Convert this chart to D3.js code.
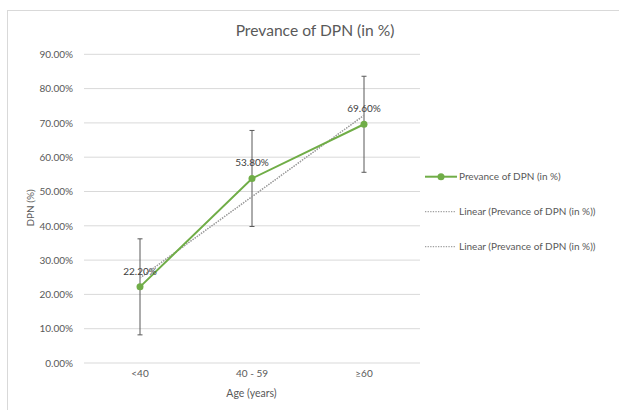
<!DOCTYPE html>
<html><head><meta charset="utf-8">
<script src="https://cdn.jsdelivr.net/npm/d3@7"></script>
<style>body{margin:0;background:#fff}svg text{font-family:Lato,"Open Sans",sans-serif}</style>
</head><body>
<svg id="c" width="619" height="410"></svg>
<script>
const categories = ["<40", "40 - 59", "\u226560"];
const values = [22.2, 53.8, 69.6];
const errors = [14, 14, 14];
const trendValues = [24.8, 72.2]; // linear trend line endpoints (first, last category)
const yTicks = [0, 10, 20, 30, 40, 50, 60, 70, 80, 90];
const legendLabels = ["Prevance of DPN (in %)", "Linear (Prevance of DPN (in %))", "Linear (Prevance of DPN (in %))"];

const FONT = "Lato,'Open Sans',sans-serif";
const svg = d3.select("#c");
const textColor = "#595959";
svg.append("rect").attr("x", 7.5).attr("y", 10.5).attr("width", 640).attr("height", 420)
  .attr("fill", "#fff").attr("stroke", "#d9d9d9");

const x = d3.scaleBand().domain(categories).range([84, 420]);
const y = d3.scaleLinear().domain([0, 90]).range([363, 54.3]);
const cx = d => x(d) + x.bandwidth() / 2;

// gridlines
svg.append("g").selectAll("line").data(yTicks).join("line")
  .attr("x1", 84).attr("x2", 420).attr("y1", d => y(d)).attr("y2", d => y(d))
  .attr("stroke", "#d9d9d9").attr("stroke-width", 1);

// y axis labels
const yAxis = d3.axisLeft(y).tickValues(yTicks).tickSize(0).tickPadding(0)
  .tickFormat(d => d3.format(".2f")(d) + "%");
const gy = svg.append("g").attr("transform", "translate(73,0)").call(yAxis);
gy.select(".domain").remove();
gy.selectAll("text").attr("fill", textColor).style("font-size", "10px").style("font-family", FONT);

// x axis labels
const xAxis = d3.axisBottom(x).tickSize(0).tickPadding(0);
const gx = svg.append("g").attr("transform", "translate(0,370)").call(xAxis);
gx.select(".domain").remove();
gx.selectAll("text").attr("fill", textColor).style("font-size", "10px").style("font-family", FONT);

// title
svg.append("text").attr("x", 315).attr("y", 36).attr("text-anchor", "middle")
  .attr("fill", textColor).style("font-size", "15.6px").text("Prevance of DPN (in %)");
// axis titles
svg.append("text").attr("x", 251.5).attr("y", 397).attr("text-anchor", "middle")
  .attr("fill", textColor).style("font-size", "10.5px").text("Age (years)");
svg.append("text").attr("transform", "translate(33.5,208) rotate(-90)").attr("text-anchor", "middle")
  .attr("fill", textColor).style("font-size", "10px").text("DPN (%)");

// error bars
const eg = svg.append("g").attr("stroke", "#595959").attr("stroke-width", 1);
categories.forEach((c, i) => {
  const px = cx(c), top = y(values[i] + errors[i]), bot = y(values[i] - errors[i]);
  eg.append("line").attr("x1", px).attr("x2", px).attr("y1", top).attr("y2", bot);
  eg.append("line").attr("x1", px - 2.5).attr("x2", px + 2.5).attr("y1", top).attr("y2", top);
  eg.append("line").attr("x1", px - 2.5).attr("x2", px + 2.5).attr("y1", bot).attr("y2", bot);
});

// trend lines (two identical)
const tx = [cx(categories[0]), cx(categories[categories.length - 1])];
for (let k = 0; k < 2; k++) {
  svg.append("line").attr("x1", tx[0]).attr("x2", tx[1])
    .attr("y1", y(trendValues[0])).attr("y2", y(trendValues[1]))
    .attr("stroke", "#a0a0a0").attr("stroke-width", 1.3).attr("stroke-dasharray", "1.3,1.3");
}

// main line
const line = d3.line().x((d, i) => cx(categories[i])).y(d => y(d));
svg.append("path").datum(values).attr("d", line).attr("fill", "none")
  .attr("stroke", "#70ad47").attr("stroke-width", 2);
svg.append("g").selectAll("circle").data(values).join("circle")
  .attr("cx", (d, i) => cx(categories[i])).attr("cy", d => y(d)).attr("r", 3.5)
  .attr("fill", "#70ad47");

// data labels
svg.append("g").selectAll("text").data(values).join("text")
  .attr("x", (d, i) => cx(categories[i])).attr("y", d => y(d) - 12)
  .attr("text-anchor", "middle").attr("fill", "#404040").style("font-size", "10px")
  .text(d => d3.format(".2f")(d) + "%");

// legend
const lg = svg.append("g");
const ly = [176.7, 211.7, 246.7];
legendLabels.forEach((t, i) => {
  if (i === 0) {
    lg.append("line").attr("x1", 425).attr("x2", 457).attr("y1", ly[i]).attr("y2", ly[i])
      .attr("stroke", "#70ad47").attr("stroke-width", 2);
    lg.append("circle").attr("cx", 441).attr("cy", ly[i]).attr("r", 3.5).attr("fill", "#70ad47");
  } else {
    lg.append("line").attr("x1", 425).attr("x2", 456).attr("y1", ly[i]).attr("y2", ly[i])
      .attr("stroke", "#a0a0a0").attr("stroke-width", 1.3).attr("stroke-dasharray", "1.3,1.3");
  }
  lg.append("text").attr("x", 459).attr("y", ly[i] + 3.5).attr("fill", textColor)
    .style("font-size", "10px").text(t);
});
</script>
</body></html>
